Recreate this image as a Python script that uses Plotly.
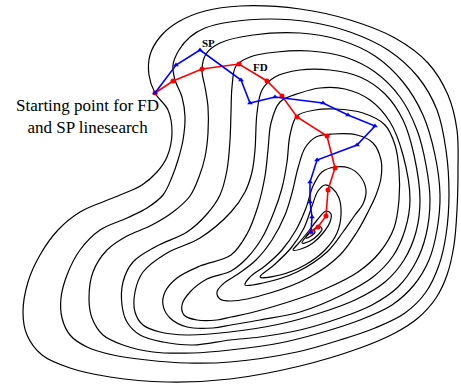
import plotly.graph_objects as go

# ---- contour lines (pixel coordinates, y downward) ----
contour_A = [(230,379),(167,382),(110,377),(70,368),(42,355),(27,335),(23,312),(28,282),(40,255),(58,230),(80,212),(105,201),(125,193),(142,185),(157,172),(167,157),(172,133),(168,110),(155,93),(149,75),(150,55),(160,37),(178,22),(205,11),(240,6),(300,9),(350,20),(395,38),(428,63),(448,95),(457,130),(458,170),(457,210),(454,245),(447,275),(436,298),(418,318),(395,333),(360,348),(300,366),(230,379)]
contour_B = [(230,362),(187,363),(147,360),(113,355),(87,347),(70,335),(62,318),(61,298),(67,275),(80,250),(100,230),(127,218),(147,208),(163,195),(172,177),(178,160),(183,140),(185,117),(182,97),(175,80),(173,65),(179,50),(190,37),(205,28),(230,22),(270,19),(310,22),(350,32),(388,50),(418,77),(437,110),(446,150),(449,195),(446,235),(439,265),(426,292),(405,313),(375,328),(340,340),(297,352),(230,362)]
contour_C = [(230,350),(193,353),(153,352),(123,345),(103,335),(92,318),(89,298),(93,272),(107,250),(127,236),(150,226),(173,212),(190,196),(199,177),(205,157),(208,133),(208,107),(205,87),(202,70),(206,54),(220,43),(253,35),(300,33),(340,40),(375,56),(403,82),(423,115),(435,155),(440,195),(437,230),(429,260),(414,285),(392,305),(360,320),(320,333),(280,343),(230,350)]
contour_D = [(230,340),(193,345),(163,342),(140,335),(127,322),(122,305),(123,282),(133,262),(157,246),(187,232),(207,214),(220,195),(227,170),(230,140),(231,113),(232,87),(236,66),(250,57),(277,52),(310,51),(345,57),(375,72),(400,97),(417,130),(426,165),(430,200),(426,235),(416,262),(398,287),(372,305),(340,318),(300,330),(260,337),(230,340)]
contour_E = [(230,332),(187,335),(160,332),(143,325),(135,312),(135,292),(143,272),(167,253),(200,238),(231,212),(245,192),(252,172),(255,150),(257,113),(262,90),(275,77),(300,70),(330,70),(360,77),(385,94),(403,120),(414,155),(420,200),(416,232),(404,260),(385,282),(355,300),(320,313),(280,324),(230,332)]
contour_F = [(231,325),(213,328),(187,327),(170,318),(163,305),(165,292),(177,278),(200,266),(231,255),(247,234),(258,206),(265,176),(268,150),(271,123),(280,102),(300,93),(320,88),(345,89),(370,100),(390,122),(403,155),(410,200),(405,230),(393,256),(373,277),(342,295),(300,312),(260,320),(231,325)]
contour_F2 = [(231,317),(217,320),(197,320),(184,315),(182,305),(190,292),(207,279),(231,271),(247,258),(262,238),(274,212),(282,188),(287,162),(290,135),(297,116),(315,110),(335,109),(363,113),(385,125),(395,145),(399,170),(399,200),(394,228),(380,252),(358,272),(325,289),(285,303),(250,313),(231,317)]
contour_G = [(231,301),(220,299),(217,292),(223,284),(238,274),(256,260),(272,240),(285,215),(292,193),(298,168),(305,148),(316,137),(333,134),(357,135),(373,143),(381,160),(381,178),(376,195),(368,212),(357,232),(340,255),(310,277),(270,293),(231,301)]
contour_H = [(245,285),(250,277),(265,266),(282,250),(296,230),(306,208),(313,186),(322,172),(335,167),(349,168),(360,176),(366,190),(363,204),(355,215),(343,232),(327,252),(297,272),(263,283),(245,285)]
contour_I = [(260,277),(280,275),(305,265),(325,250),(337,233),(341,215),(339,198),(332,188),(325,185),(318,191),(312,206),(304,228),(291,248),(274,265),(260,277)]
contour_J = [(293,250),(301,249),(313,243),(323,233),(330,222),(331,214),(326,211),(318,219),(308,232),(298,244),(293,250)]
contour_K = [(302,243),(310,241),(318,235),(322,229),(319,226),(312,231),(305,238),(302,243)]
contour_L = [(306,238),(311,236),(315,232),(313,230),(308,234),(306,238)]

# ---- line-search paths ----
fd_x = [155,173,202,239,267,282,297,327,335,328,326,318,311]
fd_y = [93,81,69,64,81,96,117,136,168,190,216,227,232]
sp_x = [155,176,200,241,250,275,323,348,375,357,317,310,310,312,311]
sp_y = [93,65,50,80,103,97,103,115,126,145,160,182,202,217,232]

labels = ["Starting point for FD<br>and SP linesearch", "SP", "FD"]

fig = go.Figure()
for c in [contour_A, contour_B, contour_C, contour_D, contour_E, contour_F,
          contour_F2, contour_G, contour_H, contour_I, contour_J, contour_K, contour_L]:
    fig.add_trace(go.Scatter(
        x=[p[0] for p in c], y=[p[1] for p in c], mode="lines",
        line=dict(color="black", width=1.2, shape="spline", smoothing=1.0),
        hoverinfo="skip", showlegend=False))

fig.add_trace(go.Scatter(x=fd_x, y=fd_y, mode="lines+markers",
                         line=dict(color="#ff0000", width=1.6),
                         marker=dict(symbol="circle", size=5, color="#ff0000"),
                         showlegend=False))
fig.add_trace(go.Scatter(x=sp_x, y=sp_y, mode="lines+markers",
                         line=dict(color="#0000ff", width=1.6),
                         marker=dict(symbol="triangle-up", size=5, color="#0000ff"),
                         showlegend=False))

fig.add_annotation(x=87, y=116, text=labels[0], showarrow=False,
                   font=dict(family="Liberation Serif", size=17, color="black"),
                   align="center", xanchor="center", yanchor="middle")
fig.add_annotation(x=208, y=43, text="<b>" + labels[1] + "</b>", showarrow=False,
                   font=dict(family="Liberation Serif", size=11, color="black"))
fig.add_annotation(x=260, y=67, text="<b>" + labels[2] + "</b>", showarrow=False,
                   font=dict(family="Liberation Serif", size=11, color="black"))

fig.update_xaxes(range=[0, 461], visible=False, fixedrange=True)
fig.update_yaxes(range=[391, 0], visible=False, fixedrange=True)
fig.update_layout(width=461, height=391, autosize=False,
                  margin=dict(l=0, r=0, t=0, b=0),
                  paper_bgcolor="white", plot_bgcolor="white")
fig.write_html("out.html", config={"displayModeBar": False},
               post_script="document.body.style.margin='0';document.body.style.overflow='hidden';")
